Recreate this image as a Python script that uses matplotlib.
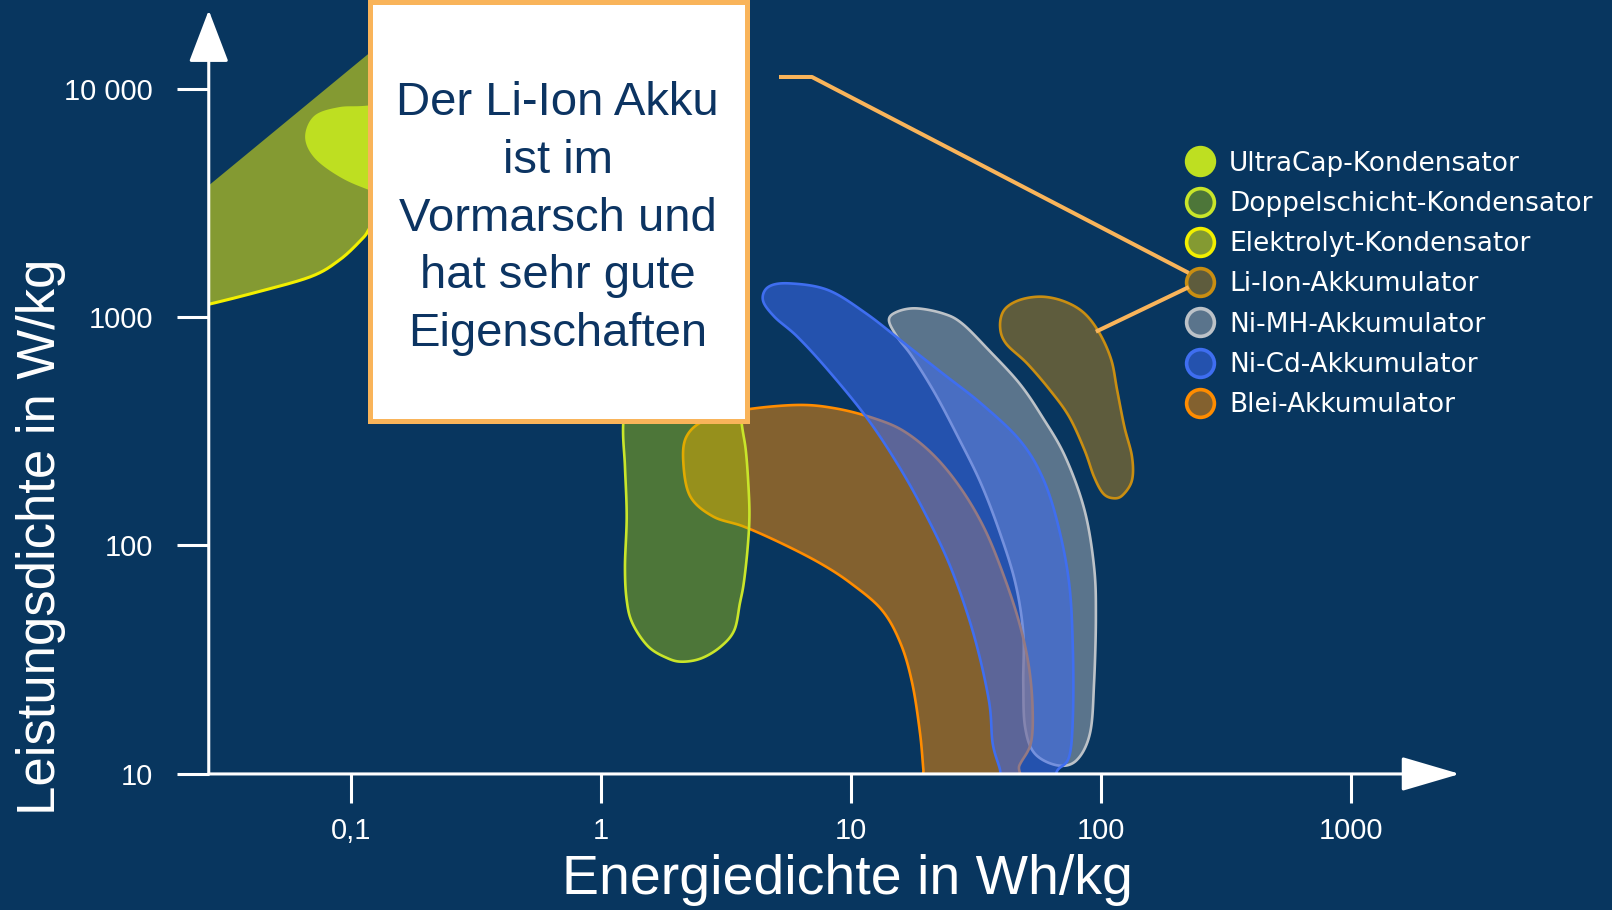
import numpy as np
import matplotlib.pyplot as plt
from matplotlib.colors import to_rgba
from matplotlib.lines import Line2D
from matplotlib.patches import Rectangle

BG = "#08365f"
ORANGE = "#f9b45a"

names = ["UltraCap-Kondensator", "Doppelschicht-Kondensator", "Elektrolyt-Kondensator",
         "Li-Ion-Akkumulator", "Ni-MH-Akkumulator", "Ni-Cd-Akkumulator", "Blei-Akkumulator"]

# outlines of the regions: energy density (Wh/kg) / power density (W/kg)
ultracap_e = [0.118, 0.0901, 0.0722, 0.0666, 0.0722, 0.0901, 0.118, 0.2, 0.25, 0.2]
ultracap_p = [8318, 8180, 7520, 6150, 5030, 4180, 3655, 3000, 6000, 9000]

doppel_e = [2.15, 3.45, 3.66, 3.80, 3.89, 3.93, 3.86, 3.73, 3.60, 3.42, 3.02, 2.53, 2.12,
            1.85, 1.55, 1.34, 1.27, 1.25, 1.27, 1.25, 1.23, 1.30]
doppel_p = [759, 585, 342, 262, 187, 134, 95.5, 68.3, 55.8, 42.6, 36.1, 32.1, 31.0,
            32.1, 36.1, 45.6, 57.7, 80.8, 134, 221, 342, 585]

elektrolyt_top_e = [0.025, 0.118, 0.32]
elektrolyt_top_p = [3500, 14200, 35000]
elektrolyt_low_e = [0.025, 0.0273, 0.0404, 0.0690, 0.0902, 0.110, 0.118, 0.13]
elektrolyt_low_p = [1120, 1139, 1269, 1499, 1775, 2170, 2403, 3000]

li_ion_e = [39.5, 41.0, 47.2, 58.2, 71.9, 85.9, 98.8, 110, 116, 124, 133, 133, 122, 112,
            102, 93.8, 85.9, 74.6, 62.5, 50.6, 41.7]
li_ion_p = [906, 1072, 1186, 1227, 1166, 1037, 847, 648, 479, 331, 245, 193, 166, 161,
            169, 200, 262, 366, 479, 627, 766]

ni_mh_e = [15.3, 18.2, 23.3, 27.8, 35.6, 47.2, 58.2, 71.9, 85.9, 93.8, 95.4, 93.8, 90.4,
           80.0, 67.1, 54.3, 49.7, 48.9, 48.9, 45.5, 39.5, 33.1, 26.8, 21.7, 17.6, 15.3, 14.2]
ni_mh_p = [1054, 1091, 1037, 938, 716, 512, 366, 245, 143, 80.8, 48.8, 24.9, 15.1,
           11.5, 10.9, 12.3, 16.1, 24.9, 41.2, 68.3, 113, 187, 299, 463, 670, 820, 970]

ni_cd_e = [4.69, 5.69, 8.10, 11.5, 16.4, 23.3, 33.1, 47.2, 58.2, 67.1, 74.6, 77.2, 77.2,
           74.6, 67.1, 61.8, 40, 39.5, 36.9, 35.6, 30.9, 25.0, 19.5, 15.3, 11.5, 8.10,
           6.11, 4.95, 4.45]
ni_cd_p = [1356, 1403, 1312, 1037, 766, 566, 419, 290, 200, 125, 68.3, 34.9, 17.8,
           11.9, 10.4, 9, 9, 10.4, 13.6, 21.1, 41.2, 80.8, 143, 229, 366, 586,
           820, 1002, 1186]

blei_e = [2.20, 2.62, 3.73, 6.11, 8.69, 12.4, 16.4, 21.7, 27.8, 34.4, 41.0, 47.2, 51.5,
          53.3, 52.4, 47.2, 44.4, 19.8, 19.5, 18.9, 17.6, 15.8, 13.3, 10.0, 7.55, 5.30,
          3.73, 2.81, 2.28, 2.14]
blei_p = [299, 354, 392, 412, 398, 360, 315, 245, 175, 117, 73.0, 45.6, 29.5,
          19.1, 13.6, 10.9, 9, 9, 10.4, 15.1, 24.9, 37.3, 52.2, 68.3, 83.5, 102,
          121, 134, 164, 229]

x_ticks = [0.1, 1, 10, 100, 1000]
x_labels = ["0,1", "1", "10", "100", "1000"]
y_ticks = [10, 100, 1000, 10000]
y_labels = ["10", "100", "1000", "10 000"]

callout = ["Der Li-Ion Akku", "ist im", "Vormarsch und", "hat sehr gute", "Eigenschaften"]

# face colour, face alpha, edge colour
styles = {
    "UltraCap-Kondensator": ("#bedf21", 1.0, "#bedf21"),
    "Doppelschicht-Kondensator": ("#b5d800", 0.4, "#c9e52a"),
    "Elektrolyt-Kondensator": ("#849a32", 1.0, "#f2ef00"),
    "Li-Ion-Akkumulator": ("#c88c14", 0.45, "#c98e12"),
    "Ni-MH-Akkumulator": ("#b4b9be", 0.48, "#bcc2c8"),
    "Ni-Cd-Akkumulator": ("#3c6af0", 0.55, "#3f6ef0"),
    "Blei-Akkumulator": ("#ff8c00", 0.5, "#ff8c00"),
}


def spline(e, p, closed=True, n=24):
    # Catmull-Rom through the outline points, done in log space
    pts = np.column_stack([np.log10(e), np.log10(p)])
    if closed:
        ext = np.vstack([pts[-1:], pts, pts[:2]])
    else:
        ext = np.vstack([2 * pts[:1] - pts[1:2], pts, 2 * pts[-1:] - pts[-2:-1]])
    t = np.linspace(0, 1, n, endpoint=False)[:, None]
    segs = []
    for i in range(1, len(ext) - 2):
        p0, p1, p2, p3 = ext[i - 1], ext[i], ext[i + 1], ext[i + 2]
        segs.append(0.5 * (2 * p1 + (p2 - p0) * t
                           + (2 * p0 - 5 * p1 + 4 * p2 - p3) * t ** 2
                           + (3 * p1 - p0 - 3 * p2 + p3) * t ** 3))
    if not closed:
        segs.append(pts[-1:])
    out = np.vstack(segs)
    return 10 ** out[:, 0], 10 ** out[:, 1]


def blob(name, e, p, z):
    fc, a, ec = styles[name]
    x, y = spline(e, p)
    ax.fill(x, y, facecolor=to_rgba(fc, a), edgecolor=ec, lw=1.9, zorder=z)


fig = plt.figure(figsize=(16.12, 9.10), dpi=100, facecolor=BG)
ax = fig.add_axes([0.1295, 0.1495, 0.7761, 0.8392])
ax.set_facecolor("none")
ax.set_xscale("log")
ax.set_yscale("log")
ax.set_xlim(0.0271, 2720)
ax.set_ylim(10, 22000)

# Elektrolyt: straight upper edge, curved lower edge
lx, ly = spline(elektrolyt_low_e, elektrolyt_low_p, closed=False)
fc, a, ec = styles["Elektrolyt-Kondensator"]
ax.fill(np.r_[elektrolyt_top_e, lx[::-1]], np.r_[elektrolyt_top_p, ly[::-1]],
        facecolor=to_rgba(fc, a), lw=0, zorder=2)
ax.plot(lx, ly, color=ec, lw=2.2, zorder=2)

blob("UltraCap-Kondensator", ultracap_e, ultracap_p, 3)
blob("Ni-MH-Akkumulator", ni_mh_e, ni_mh_p, 4)
blob("Li-Ion-Akkumulator", li_ion_e, li_ion_p, 4)
blob("Blei-Akkumulator", blei_e, blei_p, 5)
blob("Doppelschicht-Kondensator", doppel_e, doppel_p, 6)
blob("Ni-Cd-Akkumulator", ni_cd_e, ni_cd_p, 7)

for s in ax.spines.values():
    s.set_visible(False)
ax.minorticks_off()
ax.set_xticks(x_ticks, labels=x_labels)
ax.set_yticks(y_ticks, labels=y_labels)
ax.tick_params(axis="x", direction="out", length=21, width=2.2, color="white", pad=10,
               labelsize=21, labelcolor="white")
ax.tick_params(axis="y", direction="out", length=23, width=2.2, color="white", pad=17,
               labelsize=21, labelcolor="white")
for lab in ax.get_xticklabels() + ax.get_yticklabels():
    lab.set_fontfamily("Liberation Sans")

# axis lines with arrow heads
ax.annotate("", xy=(0, 1), xycoords="axes fraction", xytext=(0, 0), textcoords="axes fraction",
            arrowprops=dict(arrowstyle="-|>,head_length=1.65,head_width=0.63", color="white",
                            lw=2.2, shrinkA=0, shrinkB=0, mutation_scale=20),
            annotation_clip=False, zorder=10)
ax.annotate("", xy=(1, 0), xycoords="axes fraction", xytext=(0, 0), textcoords="axes fraction",
            arrowprops=dict(arrowstyle="-|>,head_length=1.84,head_width=0.54", color="white",
                            lw=2.2, shrinkA=0, shrinkB=0, mutation_scale=20),
            annotation_clip=False, zorder=10)

fig.text(0.526, 0.0176, "Energiedichte in Wh/kg", ha="center", va="baseline",
         fontsize=40, color="white", family="Liberation Sans")
fig.text(0.0255, 0.41, "Leistungsdichte in W/kg", ha="center", va="center", rotation=90,
         fontsize=38, color="white", family="Liberation Sans")

# legend
handles = []
for n in names:
    fc, a, ec = styles[n]
    handles.append(Line2D([], [], ls="none", marker="o", ms=20, mfc=to_rgba(fc, a),
                          mec=ec, mew=2.6))
fig.legend(handles, names, loc="upper left", bbox_to_anchor=(0.7354, 0.8345),
           frameon=False, fontsize=19, labelcolor="white", handlelength=1.1,
           handletextpad=0.55, labelspacing=0.54, borderpad=0, borderaxespad=0)

# callout box
fig.add_artist(Rectangle((0.2295, 0.5379), 0.2336, 0.4599, transform=fig.transFigure,
                         facecolor="white", edgecolor=ORANGE, lw=3.6, zorder=20))
for i, line in enumerate(callout):
    fig.text(0.346, 1 - (115.1 + i * 57.8) / 910, line, ha="center", va="baseline",
             fontsize=34, color="#0c3462", family="Liberation Sans", zorder=21)

# leader lines from the callout to the Li-Ion legend entry and region
tip = fig.transFigure.inverted().transform(ax.transData.transform((97, 870)))
fig.add_artist(Line2D([0.4845, 0.5037, 0.7363], [0.9154, 0.9154, 0.7011],
                      transform=fig.transFigure, color=ORANGE, lw=2.9, zorder=20))
fig.add_artist(Line2D([0.7363, tip[0]], [0.6835, tip[1]],
                      transform=fig.transFigure, color=ORANGE, lw=2.9, zorder=20))

fig.savefig("out.png", dpi=100, facecolor=BG)
